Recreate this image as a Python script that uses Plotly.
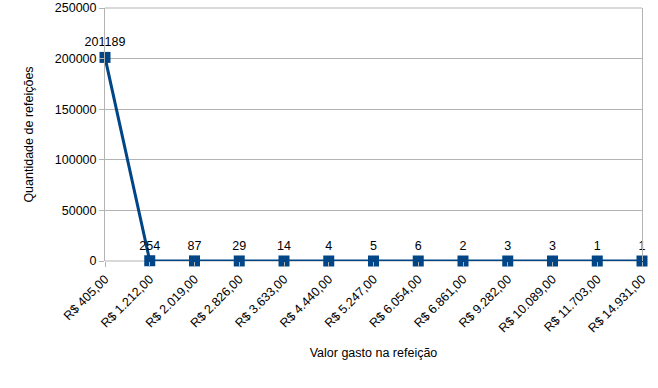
import plotly.graph_objects as go

categories = ["R$ 405,00", "R$ 1.212,00", "R$ 2.019,00", "R$ 2.826,00", "R$ 3.633,00",
              "R$ 4.440,00", "R$ 5.247,00", "R$ 6.054,00", "R$ 6.861,00", "R$ 9.282,00",
              "R$ 10.089,00", "R$ 11.703,00", "R$ 14.931,00"]
values = [201189, 254, 87, 29, 14, 4, 5, 6, 2, 3, 3, 1, 1]
y_ticks = [0, 50000, 100000, 150000, 200000, 250000]

color = "#004586"
grid = "#b3b3b3"
fs = 12.5

fig = go.Figure(go.Scatter(
    x=categories, y=values,
    mode="lines+markers+text",
    line=dict(color=color, width=3),
    marker=dict(symbol="square", size=11, color=color, line=dict(width=0)),
    text=[str(v) for v in values],
    textposition="top center",
    textfont=dict(size=fs, color="#000000", family="Liberation Sans"),
    cliponaxis=False,
    hoverinfo="skip",
))

fig.update_layout(
    width=658, height=388,
    margin=dict(l=105, r=16, t=8, b=127),
    paper_bgcolor="white", plot_bgcolor="white",
    font=dict(family="Liberation Sans", size=fs, color="#000000"),
    showlegend=False,
)
# plot-area frame (top and bottom edges), drawn beneath the data
for edge in (0, 1):
    fig.add_shape(type="line", xref="paper", yref="paper",
                  x0=0, x1=1, y0=edge, y1=edge,
                  line=dict(color=grid, width=1), layer="below")

fig.update_xaxes(
    type="category", range=[0, len(categories) - 1], automargin=False,
    tickangle=-45, ticks="outside", ticklen=5, tickcolor=grid,
    showgrid=False, showline=False,
    tickfont=dict(size=fs),
    title=dict(text="Valor gasto na refeição", font=dict(size=fs), standoff=13),
)
fig.update_yaxes(
    range=[0, 250000], tickvals=y_ticks, ticktext=[str(v) for v in y_ticks],
    automargin=False,
    ticks="outside", ticklen=5, tickcolor=grid,
    showgrid=True, gridcolor=grid, zeroline=False,
    showline=True, linecolor=grid, mirror=True,
    tickfont=dict(size=fs),
    title=dict(text="Quantidade de refeições", font=dict(size=fs), standoff=18),
)

fig.write_html("out.html", config={"displayModeBar": False},
               post_script="document.body.style.margin='0';")
